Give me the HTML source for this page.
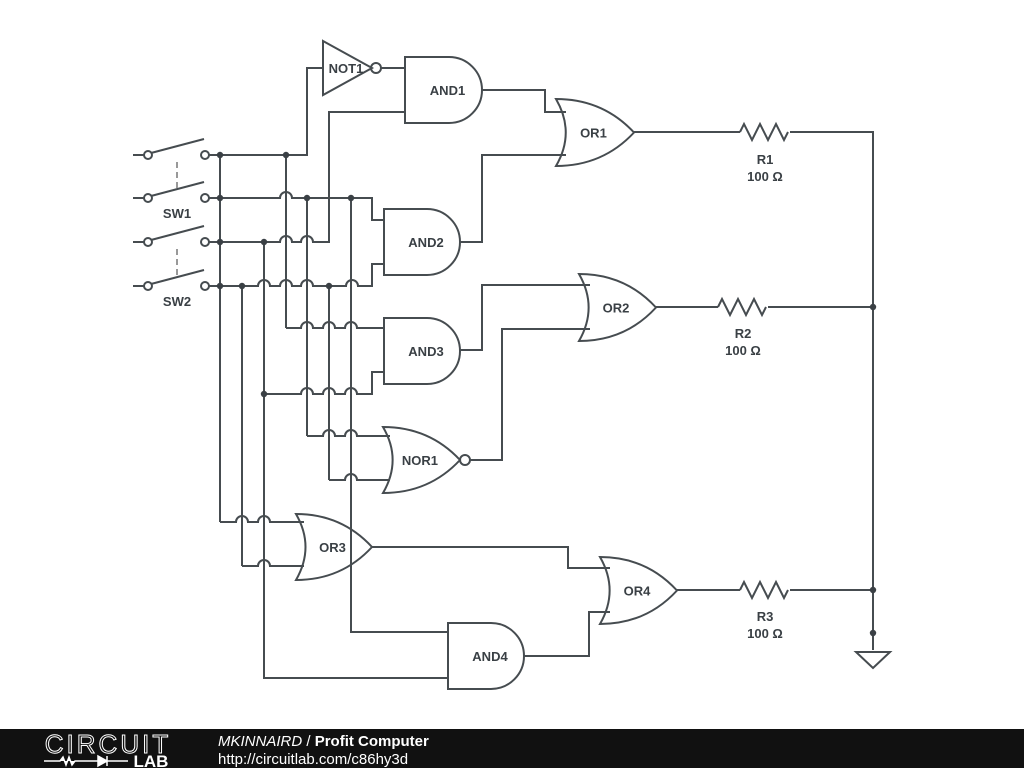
<!DOCTYPE html>
<html><head><meta charset="utf-8"><style>
html,body{margin:0;padding:0;background:#fff;}
svg{display:block}
text{font-family:"Liberation Sans",sans-serif;font-weight:bold;fill:#3a4045;font-size:13px;text-anchor:middle}
</style></head><body>
<svg id="s" width="1024" height="768" viewBox="0 0 1024 768">
<g id="w" fill="none" stroke="#464c50" stroke-width="2"></g>
<g id="d" fill="#3a4045"></g>
<g id="t"></g>
<rect x="0" y="729" width="1024" height="39" fill="#111"/>
<text x="108" y="753" style="font-weight:normal;font-size:26px;fill:none;stroke:#fff;stroke-width:1;letter-spacing:3px">CIRCUIT</text>
<text x="151" y="767" style="font-size:17px;fill:#fff">LAB</text>
<path d="M44 761 H60 l3-4 3 8 3-8 3 8 3-4 H98 M98 756 v10 l9-5z M107 756 v10 M107 761 H128" stroke="#fff" stroke-width="1.5" fill="#fff"/>
<text x="218" y="746" style="text-anchor:start;fill:#fff;font-size:15px;font-weight:normal;font-style:italic">MKINNAIRD <tspan font-style="normal">/</tspan> <tspan font-weight="bold" font-style="normal">Profit Computer</tspan></text>
<text x="218" y="764" style="text-anchor:start;fill:#fff;font-size:15px;font-weight:normal">http://circuitlab.com/c86hy3d</text>
</svg>
<script>
var W=document.getElementById('w'),D=document.getElementById('d'),T=document.getElementById('t');
var ns='http://www.w3.org/2000/svg';
function p(d,extra){var e=document.createElementNS(ns,'path');e.setAttribute('d',d);if(extra)for(var k in extra)e.setAttribute(k,extra[k]);W.appendChild(e);}
function dot(x,y){var e=document.createElementNS(ns,'circle');e.setAttribute('cx',x);e.setAttribute('cy',y);e.setAttribute('r',3.2);D.appendChild(e);}
function txt(x,y,s){var e=document.createElementNS(ns,'text');e.setAttribute('x',x);e.setAttribute('y',y);e.textContent=s;T.appendChild(e);}
function h(y,x1,x2,hops){hops=hops||[];var d='M'+x1+' '+y;hops.sort(function(a,b){return a-b});hops.forEach(function(x){d+=' L'+(x-6)+' '+y+' A6 6 0 0 1 '+(x+6)+' '+y;});d+=' L'+x2+' '+y;return d;}
[155,198,242,286].forEach(function(y){
 p('M133 '+y+' H144');
 p('M148 '+(y)+' m-4 0 a4 4 0 1 0 8 0 a4 4 0 1 0 -8 0');
 p('M205 '+y+' m-4 0 a4 4 0 1 0 8 0 a4 4 0 1 0 -8 0');
 p('M151 '+(y-2)+' L204 '+(y-16));
});
p('M177 162 V192',{'stroke-dasharray':'6 4','stroke':'#999'});
p('M177 249 V278',{'stroke-dasharray':'6 4','stroke':'#999'});
txt(177,218,'SW1');txt(177,306,'SW2');
p(h(155,209,307,[])+' V68 H323');
p(h(198,209,372,[286])+' V220 H384');
p(h(242,209,329,[286,307])+' V112 H405');
p(h(286,209,372,[264,286,307,352])+' V264 H384');
p('M220 155 V522');
p('M242 286 V566');
p('M264 242 V678 H448');
p('M286 155 V328');
p('M307 198 V436');
p('M329 286 V480');
p('M351 198 V632 H448');
p(h(328,286,384,[307,329,351]));
p(h(394,264,372,[307,329,351])+' V372 H384');
p(h(436,307,390,[329,351]));
p(h(480,329,390,[351]));
p(h(522,220,304,[242,264]));
p(h(566,242,304,[264]));
[[220,155],[220,198],[220,242],[220,286],[286,155],[307,198],[351,198],[264,242],[242,286],[329,286],[264,394]].forEach(function(a){dot(a[0],a[1]);});
function AND(x,y,hgt,w,l){var r=hgt/2;p('M'+x+' '+y+' H'+(x+w-r)+' A'+r+' '+r+' 0 0 1 '+(x+w-r)+' '+(y+hgt)+' H'+x+' Z');txt(x+(w-r)/2+r/2+4,y+r+5,l);}
function OR(x,y,hgt,w,l){var m=y+hgt/2;p('M'+x+' '+y+' Q'+(x+w*0.6)+' '+y+' '+(x+w)+' '+m+' Q'+(x+w*0.6)+' '+(y+hgt)+' '+x+' '+(y+hgt)+' Q'+(x+w*0.25)+' '+m+' '+x+' '+y+' Z');txt(x+w*0.48,m+5,l);}
p('M323 41 L372 68 L323 95 Z');p('M376 68 m-5 0 a5 5 0 1 0 10 0 a5 5 0 1 0 -10 0');p('M381 68 H405');txt(346,73,'NOT1');
AND(405,57,66,77,'AND1');
AND(384,209,66,76,'AND2');
AND(384,318,66,76,'AND3');
AND(448,623,66,76,'AND4');
OR(556,99,67,78,'OR1');
OR(579,274,67,77,'OR2');
OR(383,427,66,77,'NOR1');
p('M465 460 m-5 0 a5 5 0 1 0 10 0 a5 5 0 1 0 -10 0');
OR(296,514,66,76,'OR3');
OR(600,557,67,77,'OR4');
p('M482 90 H545 V112 H566');
p('M460 242 H482 V155 H566');
p('M460 350 H482 V285 H590');
p('M470 460 H502 V329 H590');
p('M372 547 H568 V568 H610');
p('M524 656 H589 V612 H610');
function R(x1,y){p('M'+x1+' '+y+' l4 -8 l8 16 l8 -16 l8 16 l8 -16 l8 16 l4 -8');}
p('M634 132 H740');R(740,132);p('M790 132 H873 V650');
p('M656 307 H718');R(718,307);p('M768 307 H873');
p('M677 590 H740');R(740,590);p('M790 590 H873');
p('M856 652 H890 L873 668 Z');
dot(873,307);dot(873,590);dot(873,633);
txt(765,164,'R1');txt(765,181,'100 Ω');
txt(743,338,'R2');txt(743,355,'100 Ω');
txt(765,621,'R3');txt(765,638,'100 Ω');
</script>
</body></html>
